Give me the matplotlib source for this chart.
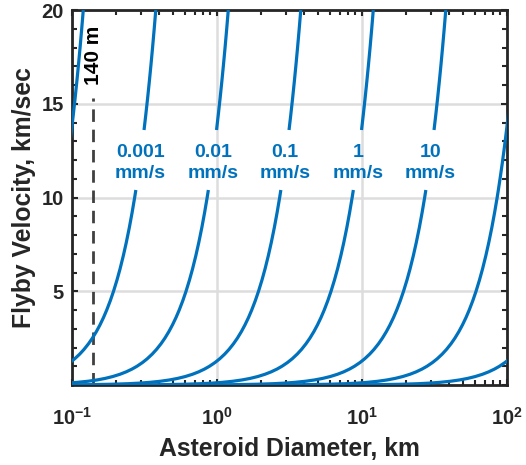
import matplotlib
matplotlib.use("Agg")
import matplotlib.pyplot as plt
import numpy as np

plt.rcParams['font.family'] = ['Liberation Sans', 'DejaVu Sans']
plt.rcParams['font.weight'] = 'bold'
plt.rcParams['mathtext.fontset'] = 'custom'
plt.rcParams['mathtext.rm'] = 'Liberation Sans:bold'
plt.rcParams['mathtext.it'] = 'Liberation Sans:bold'
plt.rcParams['mathtext.bf'] = 'Liberation Sans:bold'
plt.rcParams['mathtext.default'] = 'rm'

# ---- data ----
# flyby velocity (km/s) sampled along each curve; the labelled curves are broken
# between 10.4 and 13.6 km/s where their labels sit
velocity_lower = [0.002, 0.005, 0.01, 0.02, 0.04, 0.07, 0.1, 0.14, 0.2, 0.27,
                  0.35, 0.45, 0.57, 0.7, 0.85, 1.0, 1.2, 1.4, 1.65, 1.9, 2.2,
                  2.5, 2.85, 3.2, 3.6, 4.0, 4.5, 5.0, 5.6, 6.2, 6.9, 7.6, 8.4,
                  9.2, 10.0, 10.4]
velocity_gap = [11.1, 11.8, 12.5, 13.2]
velocity_upper = [13.6, 14.4, 15.3, 16.2, 17.1, 18.0, 19.0, 20.0]
# asteroid diameter (km) of the 0.001 mm/s curve at those velocities
diameter_lower_ref = [0.004384, 0.006830, 0.009551, 0.013360, 0.018686, 0.02450,
                      0.02911, 0.03426, 0.04072, 0.04709, 0.05339, 0.06029,
                      0.06760, 0.07467, 0.08202, 0.08874, 0.09692, 0.10444,
                      0.11308, 0.12107, 0.12997, 0.13827, 0.14731, 0.15581,
                      0.16496, 0.17359, 0.18377, 0.19338, 0.20428, 0.21460,
                      0.22599, 0.23681, 0.24858, 0.25976, 0.27047, 0.27563]
diameter_gap_ref = [0.28443, 0.29304, 0.30130, 0.30935]
diameter_upper_ref = [0.31387, 0.32265, 0.33228, 0.34158, 0.35064, 0.35948,
                      0.36899, 0.37826]
# curves: velocity change (mm/s); each sits half a decade right of the previous
delta_v = [0.0001, 0.001, 0.01, 0.1, 1, 10, 100, 1000]
curve_labels = [None, '0.001', '0.01', '0.1', '1', '10', None, None]
label_velocity = 11.85
label_diameter_ref = 0.2954

limit_diameter = 0.14     # km (140 m)
limit_top = 15.3

x_ticks = [0.1, 1, 10, 100]
x_tick_labels = ['$10^{-1}$', '$10^{0}$', '$10^{1}$', '$10^{2}$']
y_ticks = [5, 10, 15, 20]

blue = '#0072BD'
dark = '#262626'

fig = plt.figure(figsize=(5.26, 4.65), dpi=100)
ax = fig.add_axes([72/526, 1-385/465, 435/526, 375/465])

for dv, lab in zip(delta_v, curve_labels):
    s = (dv / 0.001) ** 0.5
    dl = np.array(diameter_lower_ref) * s
    dg = np.array(diameter_gap_ref) * s
    du = np.array(diameter_upper_ref) * s
    if lab is None:
        d = np.concatenate([dl, dg, du])
        v = velocity_lower + velocity_gap + velocity_upper
        ax.plot(d, v, color=blue, lw=2.3, solid_capstyle='butt', zorder=3)
    else:
        ax.plot(dl, velocity_lower, color=blue, lw=2.3, solid_capstyle='butt', zorder=3)
        ax.plot(du, velocity_upper, color=blue, lw=2.3, solid_capstyle='butt', zorder=3)
        ax.text(label_diameter_ref * s, label_velocity, lab + '\nmm/s',
                color=blue, fontsize=14, fontweight='bold', ha='center',
                va='center', linespacing=1.3, zorder=4)

ax.plot([limit_diameter, limit_diameter], [0, limit_top], color='#404040',
        lw=2.0, dashes=(4.5, 2.8), zorder=2)
ax.text(limit_diameter, 17.6, '140 m', rotation=90, ha='center', va='center',
        fontsize=15, fontweight='bold', color='black')

ax.set_xscale('log')
ax.set_xlim(0.1, 100)
ax.set_ylim(0, 20)
ax.set_xticks(x_ticks)
ax.set_xticklabels(x_tick_labels)
ax.set_yticks(y_ticks)
ax.set_yticklabels([str(t) for t in y_ticks])
ax.yaxis.set_minor_locator(matplotlib.ticker.MultipleLocator(1))
ax.xaxis.set_minor_locator(matplotlib.ticker.LogLocator(base=10, subs=np.arange(2, 10)))
ax.xaxis.set_minor_formatter(matplotlib.ticker.NullFormatter())

ax.tick_params(which='both', direction='in', top=True, right=True, colors=dark,
               width=1.5)
ax.tick_params(which='major', length=4.5, labelsize=14.5, pad=6)
ax.tick_params(which='minor', length=3.5)
ax.tick_params(axis='x', which='major', pad=16)
for lbl in ax.get_xticklabels() + ax.get_yticklabels():
    lbl.set_fontweight('bold')
for sp in ax.spines.values():
    sp.set_linewidth(2.0)
    sp.set_color(dark)

ax.grid(True, which='major', color='#dddddd', lw=1.8)
ax.set_axisbelow(True)

ax.set_xlabel('Asteroid Diameter, km', fontsize=17.8, fontweight='bold', color=dark, labelpad=6)
ax.set_ylabel('Flyby Velocity, km/sec', fontsize=17.8, fontweight='bold', color=dark, labelpad=4)

fig.savefig('out.png', dpi=100)
